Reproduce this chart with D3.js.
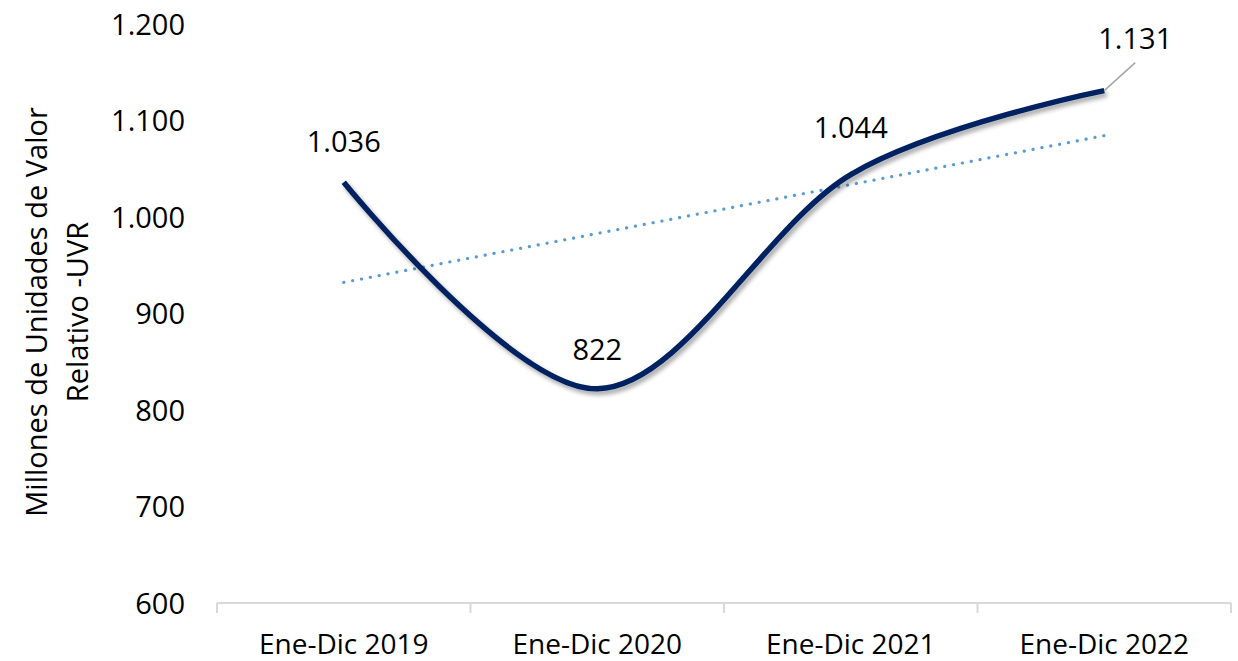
<!DOCTYPE html>
<html>
<head>
<meta charset="utf-8">
<script src="https://cdn.jsdelivr.net/npm/d3@7/dist/d3.min.js"></script>
<style>
  html, body { margin: 0; padding: 0; background: #fff; }
  svg { display: block; }
  text { font-family: "Open Sans", "Liberation Sans", sans-serif; fill: #000; }
</style>
</head>
<body>
<svg id="chart" width="1238" height="661"></svg>
<script>
const categories = ["Ene-Dic 2019", "Ene-Dic 2020", "Ene-Dic 2021", "Ene-Dic 2022"];
const values = [1036, 822, 1044, 1131];
const yTicks = [600, 700, 800, 900, 1000, 1100, 1200];
const yTitleLines = ["Millones de Unidades de Valor", "Relativo -UVR"];

const W = 1238, H = 661;
const svg = d3.select("#chart");

const loc = d3.formatLocale({ decimal: ",", thousands: ".", grouping: [3], currency: ["$", ""] });
const fmt = loc.format(",d");

const x = d3.scaleBand().domain(categories).range([217, 1231]).padding(0);
const y = d3.scaleLinear().domain([600, 1200]).range([603, 24]);
const cx = d => x(d) + x.bandwidth() / 2;

// defs: shadow
const defs = svg.append("defs");
const f = defs.append("filter").attr("id", "shadow").attr("x", "-10%").attr("y", "-10%").attr("width", "120%").attr("height", "130%");
f.append("feDropShadow").attr("dx", 2.5).attr("dy", 3.5).attr("stdDeviation", 2.2)
  .attr("flood-color", "#000").attr("flood-opacity", 0.35);

// Y axis labels (no line)
const yAxis = d3.axisLeft(y).tickValues(yTicks).tickFormat(fmt).tickSize(0).tickPadding(0);
const gy = svg.append("g").attr("transform", "translate(185,0)").call(yAxis);
gy.select(".domain").remove();
gy.selectAll("text").attr("font-size", 29).attr("font-family", "'Open Sans', sans-serif").attr("fill", "#000").attr("dy", "0.36em");

// X axis
const xAxis = d3.axisBottom(x).tickSize(0).tickPadding(0);
const gx = svg.append("g").attr("transform", "translate(0,603)").call(xAxis);
gx.select(".domain").attr("stroke", "#D9D9D9").attr("stroke-width", 2).attr("d", `M${x.range()[0]},0H${x.range()[1]}`);
gx.selectAll("text").attr("font-size", 28).attr("font-family", "'Open Sans', sans-serif").attr("fill", "#000").attr("y", 51).attr("dy", 0);
// category boundary ticks
const bounds = categories.map(c => x(c)).concat([x.range()[1]]);
gx.selectAll("line.bt").data(bounds).enter().append("line").attr("class", "bt")
  .attr("x1", d => d).attr("x2", d => d).attr("y1", 0).attr("y2", 10)
  .attr("stroke", "#D9D9D9").attr("stroke-width", 2);

// Y title
const yt = svg.append("text").attr("transform", "translate(0,312) rotate(-90)").attr("text-anchor", "middle").attr("font-size", 29);
yt.append("tspan").attr("x", 0).attr("y", 47).text(yTitleLines[0]);
yt.append("tspan").attr("x", 0).attr("y", 88).text(yTitleLines[1]);

// Trendline (linear regression on category index)
const n = values.length;
const xs = values.map((_, i) => i + 1);
const mx = d3.mean(xs), my = d3.mean(values);
const slope = d3.sum(xs.map((xi, i) => (xi - mx) * (values[i] - my))) / d3.sum(xs.map(xi => (xi - mx) ** 2));
const icpt = my - slope * mx;
const trend = [categories[0], categories[n - 1]].map((c, k) => [cx(c), y(icpt + slope * (k === 0 ? 1 : n))]);
svg.append("path").attr("d", d3.line()(trend))
  .attr("fill", "none").attr("stroke", "#5B9BD5").attr("stroke-width", 3.2)
  .attr("stroke-linecap", "round").attr("stroke-dasharray", "0.1 8.9");

// Main smoothed line
const line = d3.line().x((d, i) => cx(categories[i])).y(d => y(d)).curve(d3.curveCardinal.tension(0));
svg.append("path").datum(values).attr("d", line)
  .attr("fill", "none").attr("stroke", "#002060").attr("stroke-width", 5.5)
  .attr("stroke-linejoin", "round").attr("filter", "url(#shadow)");

// Leader line for last label
const lastX = cx(categories[n - 1]), lastY = y(values[n - 1]);
svg.append("line").attr("x1", lastX).attr("y1", lastY).attr("x2", lastX + 31).attr("y2", lastY - 28)
  .attr("stroke", "#A6A6A6").attr("stroke-width", 1.5);

// Data labels
const labelOffsets = [[0, -30], [0, -29], [0, -37], [31, -42]];
svg.selectAll("text.dl").data(values).enter().append("text").attr("class", "dl")
  .attr("x", (d, i) => cx(categories[i]) + labelOffsets[i][0])
  .attr("y", (d, i) => y(d) + labelOffsets[i][1])
  .attr("text-anchor", "middle").attr("font-size", 29)
  .text(d => fmt(d));
</script>
</body>
</html>
